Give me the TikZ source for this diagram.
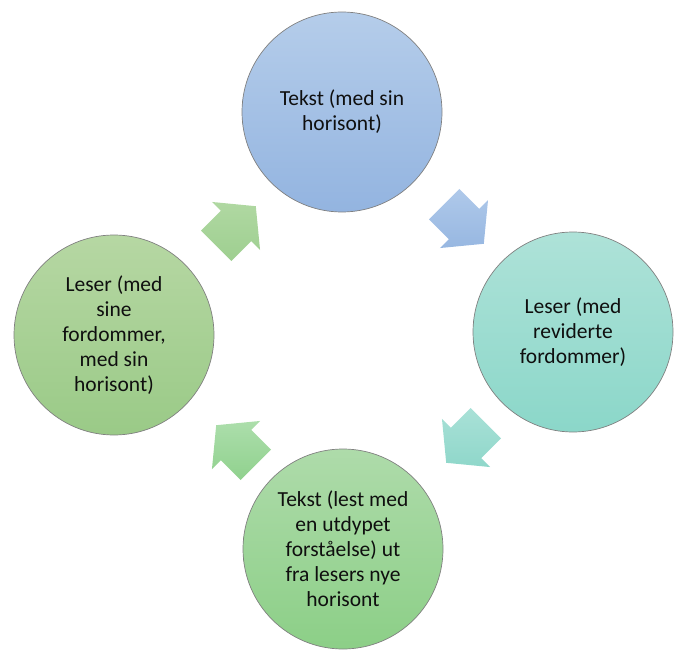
\documentclass[tikz,border=0pt]{standalone}
\usepackage{fontspec}
\setmainfont{Carlito}
\definecolor{blueA}{HTML}{B5CDEA}
\definecolor{blueB}{HTML}{93B4E0}
\definecolor{tealA}{HTML}{AEE2D8}
\definecolor{tealB}{HTML}{8BD7C9}
\definecolor{grnbA}{HTML}{AEDBAA}
\definecolor{grnbB}{HTML}{8CCF87}
\definecolor{grnlA}{HTML}{B6D7A3}
\definecolor{grnlB}{HTML}{9ACA87}
\definecolor{a1A}{HTML}{B0D8A2}
\definecolor{a1B}{HTML}{9ECF90}
\definecolor{a2A}{HTML}{AFC9EA}
\definecolor{a2B}{HTML}{97B7E1}
\definecolor{a3A}{HTML}{A9E1D7}
\definecolor{a3B}{HTML}{8FD7CA}
\definecolor{a4A}{HTML}{ACDEAB}
\definecolor{a4B}{HTML}{90D18E}
\definecolor{txt}{HTML}{0F0F0F}
\newcommand\blockarrow[5]{%
  \begin{scope}[shift={#1},rotate=#2]
    \path[top color=#3,bottom color=#4] (28,0) coordinate (#5tip) -- (0,34) -- (0,21.5) -- (-28,21.5) -- (-28,-21.5) -- (0,-21.5) -- (0,-34) -- cycle;
  \end{scope}}
\begin{document}
\begin{tikzpicture}[x=1pt,y=1pt,
  stage/.style={circle,minimum size=200pt,inner sep=0pt,draw=black!50,line width=0.7pt,
    align=center,text=txt,font=\fontsize{21.5}{25}\selectfont}]
\useasboundingbox (0,0) rectangle (676,649);
\node[stage,top color=blueA,bottom color=blueB] (top) at (342,537) {Tekst (med sin\\horisont)};
\node[stage,top color=tealA,bottom color=tealB] (right) at (573,317) {Leser (med\\reviderte\\fordommer)};
\node[stage,top color=grnbA,bottom color=grnbB] (bottom) at (343,100) {Tekst (lest med\\en utdypet\\forståelse) ut\\fra lesers nye\\horisont};
\node[stage,top color=grnlA,bottom color=grnlB] (left) at (114,314) {Leser (med\\sine\\fordommer,\\med sin\\horisont)};
\blockarrow{(236,423)}{45}{a1A}{a1B}{arA}
\blockarrow{(464,425)}{-45}{a2A}{a2B}{arB}
\blockarrow{(466,206)}{-135}{a3A}{a3B}{arC}
\blockarrow{(236,204)}{135}{a4A}{a4B}{arD}
\end{tikzpicture}
\end{document}
